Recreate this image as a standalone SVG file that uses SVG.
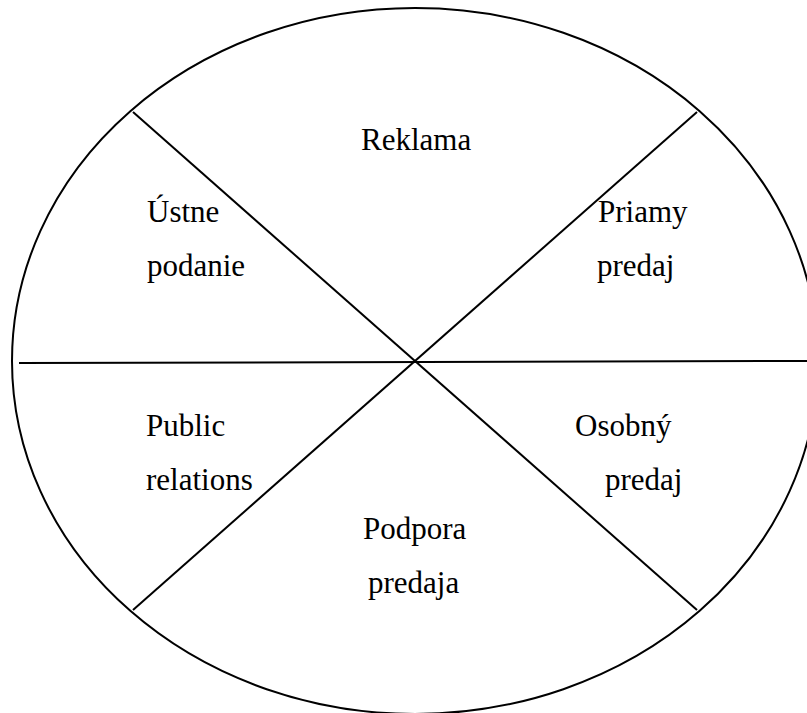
<svg xmlns="http://www.w3.org/2000/svg" width="807" height="713" viewBox="0 0 807 713">
  <style>
    .outline { fill: none; stroke: #000; stroke-width: 2; }
    .divider { fill: none; stroke: #000; stroke-width: 2; }
    .label { font-family: "Liberation Serif", "Times New Roman", serif; font-size: 31px; fill: #000; }
  </style>
  <rect width="807" height="713" fill="#fff"/>
  <g id="wheel">
    <ellipse class="outline" cx="415" cy="361" rx="403" ry="353"/>
  </g>
  <g id="connectors">
    <line class="divider" x1="19" y1="363" x2="807" y2="361"/>
    <line class="divider" x1="133" y1="112" x2="697" y2="610"/>
    <line class="divider" x1="697" y1="112" x2="133" y2="610"/>
  </g>
  <g id="reklama">
    <text class="label" x="361" y="150">Reklama</text>
  </g>
  <g id="ustne-podanie">
    <text class="label" x="147" y="222">Ústne</text>
    <text class="label" x="147" y="276">podanie</text>
  </g>
  <g id="priamy-predaj">
    <text class="label" x="598" y="222">Priamy</text>
    <text class="label" x="597" y="276">predaj</text>
  </g>
  <g id="public-relations">
    <text class="label" x="146" y="436">Public</text>
    <text class="label" x="146" y="490">relations</text>
  </g>
  <g id="osobny-predaj">
    <text class="label" x="575" y="436">Osobný</text>
    <text class="label" x="605" y="490">predaj</text>
  </g>
  <g id="podpora-predaja">
    <text class="label" x="363" y="539">Podpora</text>
    <text class="label" x="368" y="593">predaja</text>
  </g>
</svg>
